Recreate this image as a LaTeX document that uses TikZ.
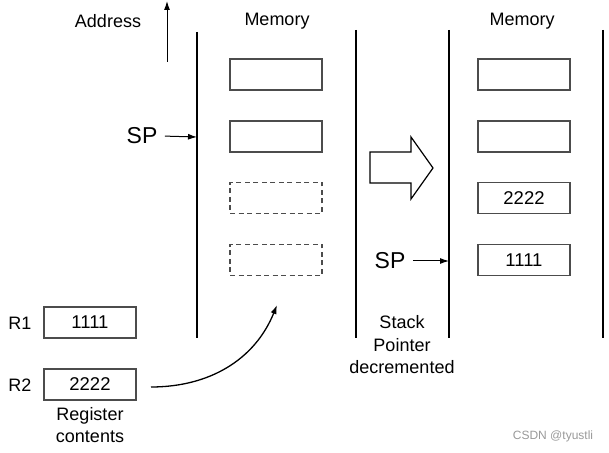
\documentclass[tikz,border=0pt]{standalone}
\usepackage{fontspec}
\setmainfont{Liberation Sans}
\usetikzlibrary{arrows.meta}

\begin{document}
\begin{tikzpicture}[x=1pt,y=1pt,
	cell/.style={draw=black!70,line width=1.8pt,minimum width=92pt,minimum height=31pt,inner sep=0pt,font=\fontsize{18.5}{18.5}\selectfont},
	emptycell/.style={cell,dashed,dash pattern=on 5pt off 3.5pt},
	lbl/.style={font=\fontsize{18}{22.5}\selectfont,align=center},
	splbl/.style={font=\fontsize{23}{23}\selectfont},
	wall/.style={line width=1.5pt},
	ptr/.style={-{Latex[length=9pt,width=6pt]},line width=1pt}]
	\useasboundingbox (0,0) rectangle (609,452);
	% memory walls
	\draw[wall] (197,420) -- (197,114);
	\draw[wall] (356,422) -- (356,114);
	\draw[wall] (449,422) -- (449,114);
	\draw[wall] (603,422) -- (603,114);
	% address direction
	\node[lbl] (addr) at (108,431) {Address};
	\coordinate (upa) at (167,390);
	\coordinate (upb) at (167,451);
	\draw[ptr] (upa) -- (upb);
	% before
	\node[lbl] (mema) at (277,431) {Memory};
	\node[cell] (a1) at (276,377.5) {};
	\node[cell] (a2) at (276,315.5) {};
	\node[emptycell] (a3) at (276,254) {};
	\node[emptycell] (a4) at (276,192) {};
	\node[splbl] (spa) at (142,316) {SP};
	\coordinate (spatip) at (197,315);
	\draw[ptr,shorten <=4pt] (spa.east) -- (spatip);
	% big arrow
	\draw[line width=1.2pt,line join=miter] (370,300) -- (411,300) -- (411,315) -- (433,284)
		-- (411,253) -- (411,269) -- (370,269) -- cycle;
	\node[lbl] (dec) at (402,107) {Stack\\Pointer\\decremented};
	% after
	\node[lbl] (memb) at (522,431) {Memory};
	\node[cell] (b1) at (524,377.5) {};
	\node[cell] (b2) at (524,315.5) {};
	\node[cell] (b3) at (524,254) {2222};
	\node[cell] (b4) at (524,192) {1111};
	\node[splbl] (spb) at (390,191) {SP};
	\coordinate (spbtip) at (449,191);
	\draw[ptr,shorten <=4pt] (spb.east) -- (spbtip);
	% registers
	\node[lbl] (r1lbl) at (20,129) {R1};
	\node[lbl] (r2lbl) at (20,67) {R2};
	\node[cell] (r1) at (90,129.5) {1111};
	\node[cell] (r2) at (90,67.5) {2222};
	\node[lbl] (regs) at (90,27) {Register\\contents};
	\coordinate (pusha) at (151,65);
	\coordinate (pushb) at (277,147);
	\draw[ptr,line width=1.3pt] (pusha) to[out=0,in=-112] (pushb);
	\node[text=black!40,font=\fontsize{12}{12}\selectfont] (mark) at (553,16) {CSDN @tyustli};
\end{tikzpicture}
\end{document}
